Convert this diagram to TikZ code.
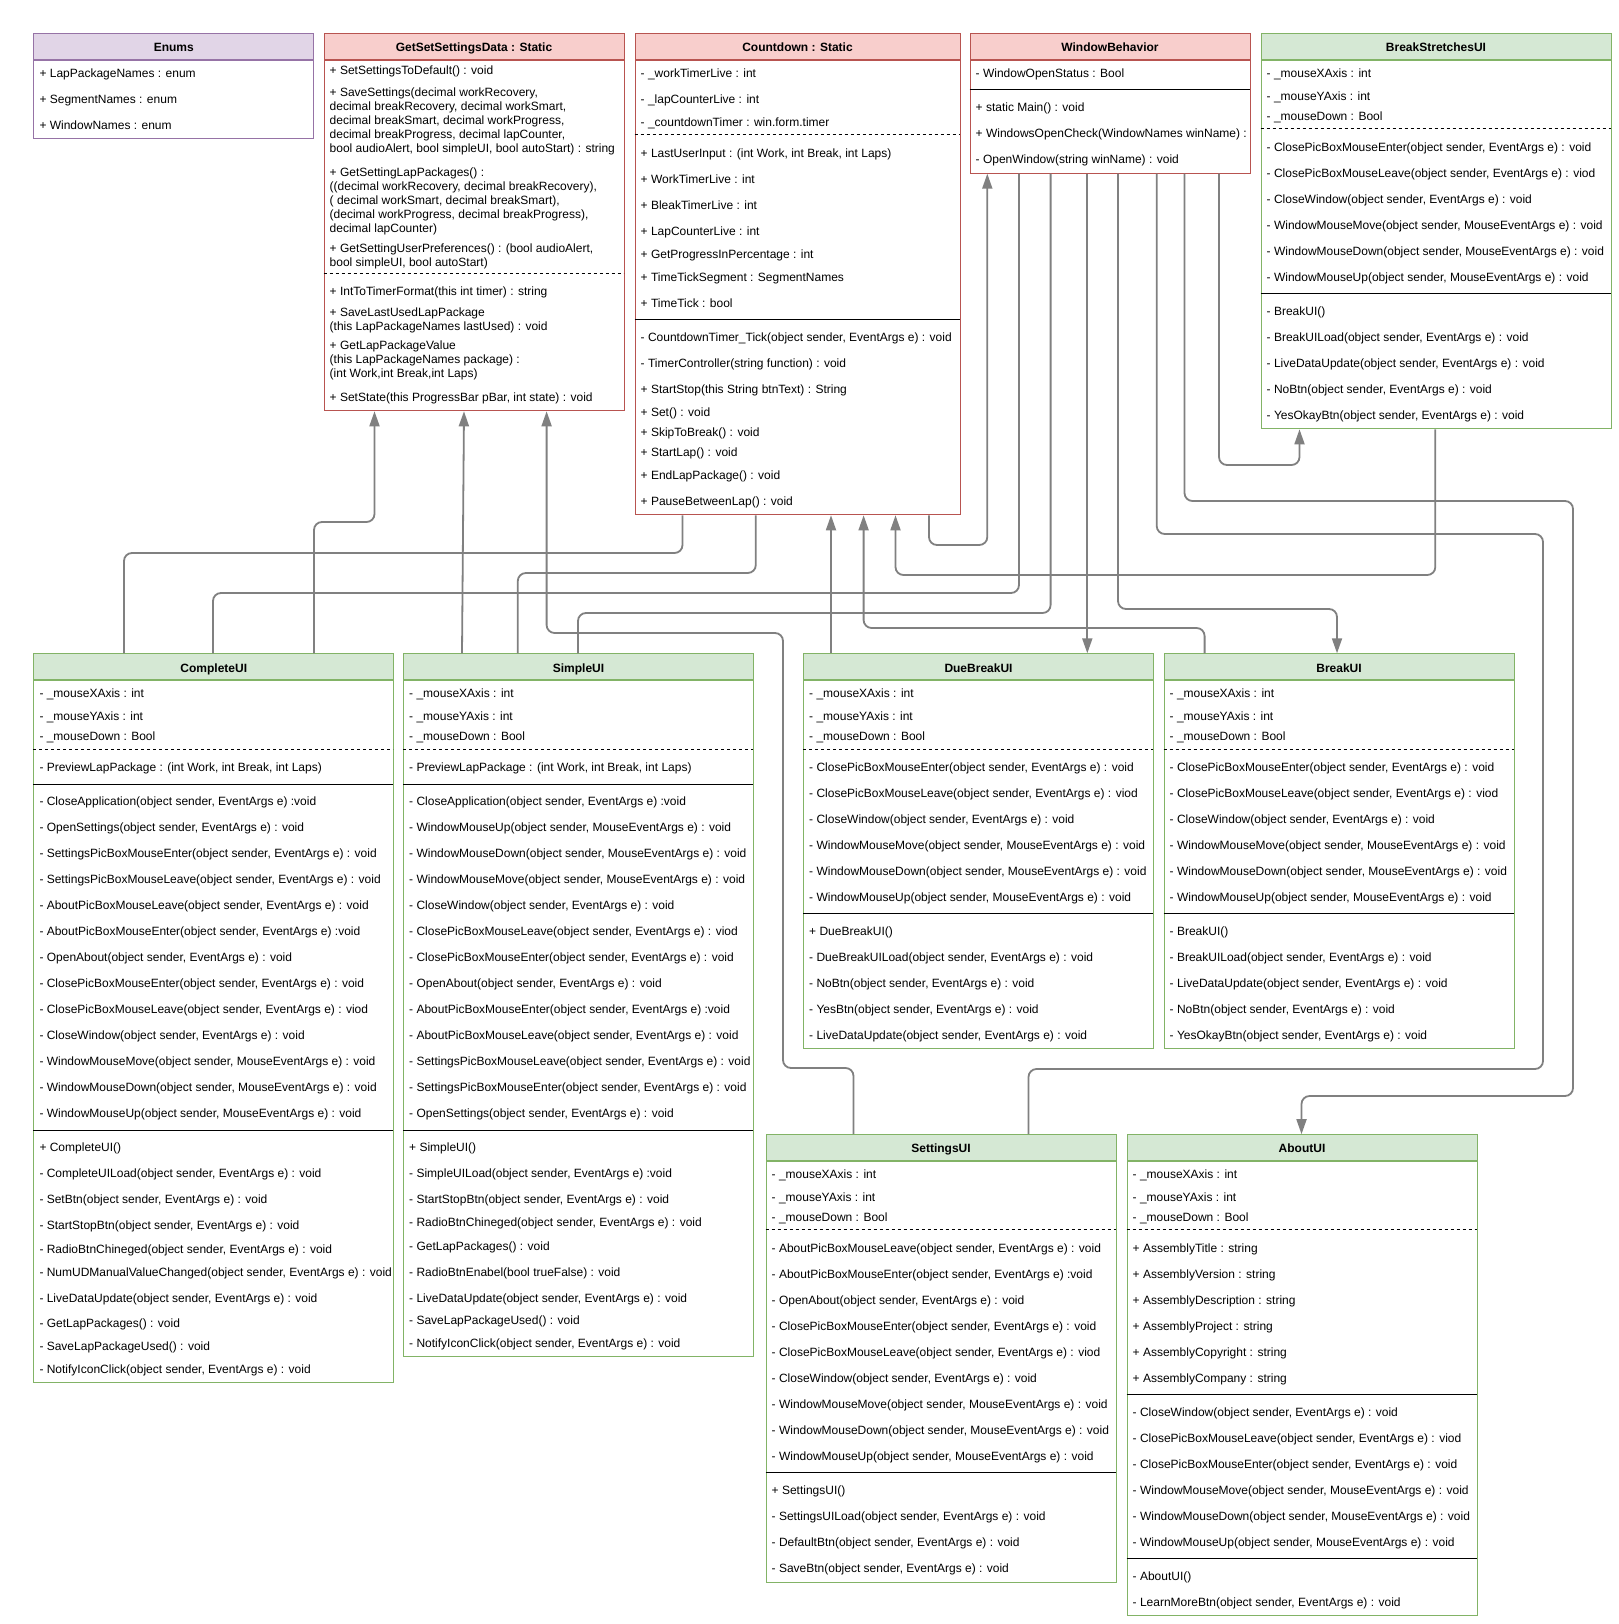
\documentclass[tikz,border=0pt]{standalone}
\usepackage{fontspec}
\setmainfont{Liberation Sans}
\usetikzlibrary{arrows.meta,calc}

\definecolor{enumfill}{HTML}{E1D5E7}
\definecolor{enumline}{HTML}{9673A6}
\definecolor{redfill}{HTML}{F8CECC}
\definecolor{redline}{HTML}{B85450}
\definecolor{greenfill}{HTML}{D5E8D4}
\definecolor{greenline}{HTML}{82B366}
\definecolor{linkgray}{HTML}{808080}

\tikzset{
  every node/.style={font=\fontsize{12}{14}\selectfont},
  mem/.style={anchor=west, inner sep=0pt, text height=10.5pt, text depth=0pt},
  head/.style={anchor=north west, minimum height=26pt, inner sep=0pt, line width=1pt,
    text height=10.4pt, text depth=0pt, font=\fontsize{12}{14}\selectfont\bfseries},
  body/.style={anchor=north west, inner sep=0pt, line width=1pt},
  purplehead/.style={head, fill=enumfill, draw=enumline},
  purplebody/.style={body, draw=enumline},
  redhead/.style={head, fill=redfill, draw=redline},
  redbody/.style={body, draw=redline},
  greenhead/.style={head, fill=greenfill, draw=greenline},
  greenbody/.style={body, draw=greenline},
  dsep/.style={line width=1pt, dash pattern=on 3pt off 3pt},
  ssep/.style={line width=1pt},
  assoc/.style={draw=linkgray, line width=1.8pt, rounded corners=8pt},
  dep/.style={assoc, -{Triangle[length=15pt,width=10pt]}, linkgray}
}

\begin{document}
\begin{tikzpicture}[x=1pt,y=-1pt]
\fill[white] (0,0) rectangle (1618,1624);
\useasboundingbox (0,0) rectangle (1618,1624);

% Enums
\node[purplehead, minimum width=280] (enums) at (33.3,33.3) {Enums};
\node[purplebody, minimum width=280, minimum height=78] (enumsb) at (enums.south west) {};
\node[mem] (en1) at (39.3,72.7) {+ LapPackageNames : enum};
\node[mem] (en2) at (39.3,98.7) {+ SegmentNames : enum};
\node[mem] (en3) at (39.3,124.7) {+ WindowNames : enum};

% GetSetSettingsData
\node[redhead, minimum width=300] (getset) at (323.5,33.3) {GetSetSettingsData : Static};
\node[redbody, minimum width=300, minimum height=350] (getsetb) at (getset.south west) {};
\node[mem] (gs1) at (329.5,69.3) {+ SetSettingsToDefault() : void};
\node[mem] (gs2) at (329.5,91.7) {+ SaveSettings(decimal workRecovery,};
\node[mem] (gs3) at (329.5,105.7) {decimal breakRecovery, decimal workSmart,};
\node[mem] (gs4) at (329.5,119.7) {decimal breakSmart, decimal workProgress,};
\node[mem] (gs5) at (329.5,133.7) {decimal breakProgress, decimal lapCounter,};
\node[mem] (gs6) at (329.5,147.7) {bool audioAlert, bool simpleUI, bool autoStart) : string};
\node[mem] (gs7) at (329.5,171.7) {+ GetSettingLapPackages() :};
\node[mem] (gs8) at (329.5,185.7) {((decimal workRecovery, decimal breakRecovery),};
\node[mem] (gs9) at (329.5,199.7) {( decimal workSmart, decimal breakSmart),};
\node[mem] (gs10) at (329.5,213.7) {(decimal workProgress, decimal breakProgress),};
\node[mem] (gs11) at (329.5,227.7) {decimal lapCounter)};
\node[mem] (gs12) at (329.5,247.7) {+ GetSettingUserPreferences() : (bool audioAlert,};
\node[mem] (gs13) at (329.5,261.7) {bool simpleUI, bool autoStart)};
\draw[dsep] (323.5,273.3) -- (623.5,273.3);
\node[mem] (gs14) at (329.5,290.7) {+ IntToTimerFormat(this int timer) : string};
\node[mem] (gs15) at (329.5,311.7) {+ SaveLastUsedLapPackage};
\node[mem] (gs16) at (329.5,325.7) {(this LapPackageNames lastUsed) : void};
\node[mem] (gs17) at (329.5,344.3) {+ GetLapPackageValue};
\node[mem] (gs18) at (329.5,358.3) {(this LapPackageNames package) :};
\node[mem] (gs19) at (329.5,372.3) {(int Work,int Break,int Laps)};
\node[mem] (gs20) at (329.5,396.7) {+ SetState(this ProgressBar pBar, int state) : void};

% Countdown
\node[redhead, minimum width=325] (countdown) at (634.5,33.3) {Countdown : Static};
\node[redbody, minimum width=325, minimum height=454] (countdownb) at (countdown.south west) {};
\node[mem] (cd1) at (640.5,72.7) {- \_workTimerLive : int};
\node[mem] (cd2) at (640.5,98.7) {- \_lapCounterLive : int};
\node[mem] (cd3) at (640.5,121.7) {- \_countdownTimer : win.form.timer};
\draw[dsep] (634.5,135) -- (959.5,135);
\node[mem] (cd4) at (640.5,152.7) {+ LastUserInput : (int Work, int Break, int Laps)};
\node[mem] (cd5) at (640.5,178.7) {+ WorkTimerLive : int};
\node[mem] (cd6) at (640.5,204.7) {+ BleakTimerLive : int};
\node[mem] (cd7) at (640.5,230.7) {+ LapCounterLive : int};
\node[mem] (cd8) at (640.5,253.7) {+ GetProgressInPercentage : int};
\node[mem] (cd9) at (640.5,276.7) {+ TimeTickSegment : SegmentNames};
\node[mem] (cd10) at (640.5,302.7) {+ TimeTick : bool};
\draw[ssep] (634.5,319.3) -- (959.5,319.3);
\node[mem] (cd11) at (640.5,336.7) {- CountdownTimer\_Tick(object sender, EventArgs e) : void};
\node[mem] (cd12) at (640.5,362.7) {- TimerController(string function) : void};
\node[mem] (cd13) at (640.5,388.7) {+ StartStop(this String btnText) : String};
\node[mem] (cd14) at (640.5,411.7) {+ Set() : void};
\node[mem] (cd15) at (640.5,431.7) {+ SkipToBreak() : void};
\node[mem] (cd16) at (640.5,451.7) {+ StartLap() : void};
\node[mem] (cd17) at (640.5,474.7) {+ EndLapPackage() : void};
\node[mem] (cd18) at (640.5,500.7) {+ PauseBetweenLap() : void};

% WindowBehavior
\node[redhead, minimum width=280] (winbeh) at (969.5,33.3) {WindowBehavior};
\node[redbody, minimum width=280, minimum height=112.4] (winbehb) at (winbeh.south west) {};
\node[mem] (wb1) at (975.5,72.7) {- WindowOpenStatus : Bool};
\draw[ssep] (969.5,89.3) -- (1249.5,89.3);
\node[mem] (wb2) at (975.5,106.7) {+ static Main() : void};
\node[mem] (wb3) at (975.5,132.7) {+ WindowsOpenCheck(WindowNames winName) :};
\node[mem] (wb4) at (975.5,158.7) {- OpenWindow(string winName) : void};

% BreakStretchesUI
\node[greenhead, minimum width=350] (stretches) at (1260.5,33.3) {BreakStretchesUI};
\node[greenbody, minimum width=350, minimum height=368] (stretchesb) at (stretches.south west) {};
\node[mem] (bs1) at (1266.5,72.7) {- \_mouseXAxis : int};
\node[mem] (bs2) at (1266.5,95.7) {- \_mouseYAxis : int};
\node[mem] (bs3) at (1266.5,115.7) {- \_mouseDown : Bool};
\draw[dsep] (1260.5,129) -- (1610.5,129);
\node[mem] (bs4) at (1266.5,146.7) {- ClosePicBoxMouseEnter(object sender, EventArgs e) : void};
\node[mem] (bs5) at (1266.5,172.7) {- ClosePicBoxMouseLeave(object sender, EventArgs e) : viod};
\node[mem] (bs6) at (1266.5,198.7) {- CloseWindow(object sender, EventArgs e) : void};
\node[mem] (bs7) at (1266.5,224.7) {- WindowMouseMove(object sender, MouseEventArgs e) : void};
\node[mem] (bs8) at (1266.5,250.7) {- WindowMouseDown(object sender, MouseEventArgs e) : void};
\node[mem] (bs9) at (1266.5,276.7) {- WindowMouseUp(object sender, MouseEventArgs e) : void};
\draw[ssep] (1260.5,293.3) -- (1610.5,293.3);
\node[mem] (bs10) at (1266.5,310.7) {- BreakUI()};
\node[mem] (bs11) at (1266.5,336.7) {- BreakUILoad(object sender, EventArgs e) : void};
\node[mem] (bs12) at (1266.5,362.7) {- LiveDataUpdate(object sender, EventArgs e) : void};
\node[mem] (bs13) at (1266.5,388.7) {- NoBtn(object sender, EventArgs e) : void};
\node[mem] (bs14) at (1266.5,414.7) {- YesOkayBtn(object sender, EventArgs e) : void};

% CompleteUI
\node[greenhead, minimum width=360] (complete) at (33.3,653.3) {CompleteUI};
\node[greenbody, minimum width=360, minimum height=701.4] (completeb) at (complete.south west) {};
\node[mem] (cu1) at (39.3,692.7) {- \_mouseXAxis : int};
\node[mem] (cu2) at (39.3,715.7) {- \_mouseYAxis : int};
\node[mem] (cu3) at (39.3,735.7) {- \_mouseDown : Bool};
\draw[dsep] (33.3,749) -- (393.3,749);
\node[mem] (cu4) at (39.3,766.7) {- PreviewLapPackage : (int Work, int Break, int Laps)};
\draw[ssep] (33.3,784.1) -- (393.3,784.1);
\node[mem] (cu5) at (39.3,800.7) {- CloseApplication(object sender, EventArgs e) :void};
\node[mem] (cu6) at (39.3,826.7) {- OpenSettings(object sender, EventArgs e) : void};
\node[mem] (cu7) at (39.3,852.7) {- SettingsPicBoxMouseEnter(object sender, EventArgs e) : void};
\node[mem] (cu8) at (39.3,878.7) {- SettingsPicBoxMouseLeave(object sender, EventArgs e) : void};
\node[mem] (cu9) at (39.3,904.7) {- AboutPicBoxMouseLeave(object sender, EventArgs e) : void};
\node[mem] (cu10) at (39.3,930.7) {- AboutPicBoxMouseEnter(object sender, EventArgs e) :void};
\node[mem] (cu11) at (39.3,956.7) {- OpenAbout(object sender, EventArgs e) : void};
\node[mem] (cu12) at (39.3,982.7) {- ClosePicBoxMouseEnter(object sender, EventArgs e) : void};
\node[mem] (cu13) at (39.3,1008.7) {- ClosePicBoxMouseLeave(object sender, EventArgs e) : viod};
\node[mem] (cu14) at (39.3,1034.7) {- CloseWindow(object sender, EventArgs e) : void};
\node[mem] (cu15) at (39.3,1060.7) {- WindowMouseMove(object sender, MouseEventArgs e) : void};
\node[mem] (cu16) at (39.3,1086.7) {- WindowMouseDown(object sender, MouseEventArgs e) : void};
\node[mem] (cu17) at (39.3,1112.7) {- WindowMouseUp(object sender, MouseEventArgs e) : void};
\draw[ssep] (33.3,1130) -- (393.3,1130);
\node[mem] (cu18) at (39.3,1146.7) {+ CompleteUI()};
\node[mem] (cu19) at (39.3,1172.7) {- CompleteUILoad(object sender, EventArgs e) : void};
\node[mem] (cu20) at (39.3,1198.7) {- SetBtn(object sender, EventArgs e) : void};
\node[mem] (cu21) at (39.3,1224.5) {- StartStopBtn(object sender, EventArgs e) : void};
\node[mem] (cu22) at (39.3,1248) {- RadioBtnChineged(object sender, EventArgs e) : void};
\node[mem] (cu23) at (39.3,1271) {- NumUDManualValueChanged(object sender, EventArgs e) : void};
\node[mem] (cu24) at (39.3,1296.8) {- LiveDataUpdate(object sender, EventArgs e) : void};
\node[mem] (cu25) at (39.3,1322.7) {- GetLapPackages() : void};
\node[mem] (cu26) at (39.3,1345.5) {- SaveLapPackageUsed() : void};
\node[mem] (cu27) at (39.3,1368.3) {- NotifyIconClick(object sender, EventArgs e) : void};

% SimpleUI
\node[greenhead, minimum width=350] (simple) at (403,653.3) {SimpleUI};
\node[greenbody, minimum width=350, minimum height=675.5] (simpleb) at (simple.south west) {};
\node[mem] (su1) at (409,692.7) {- \_mouseXAxis : int};
\node[mem] (su2) at (409,715.7) {- \_mouseYAxis : int};
\node[mem] (su3) at (409,735.7) {- \_mouseDown : Bool};
\draw[dsep] (403,749) -- (753,749);
\node[mem] (su4) at (409,766.7) {- PreviewLapPackage : (int Work, int Break, int Laps)};
\draw[ssep] (403,784.1) -- (753,784.1);
\node[mem] (su5) at (409,800.7) {- CloseApplication(object sender, EventArgs e) :void};
\node[mem] (su6) at (409,826.7) {- WindowMouseUp(object sender, MouseEventArgs e) : void};
\node[mem] (su7) at (409,852.7) {- WindowMouseDown(object sender, MouseEventArgs e) : void};
\node[mem] (su8) at (409,878.7) {- WindowMouseMove(object sender, MouseEventArgs e) : void};
\node[mem] (su9) at (409,904.7) {- CloseWindow(object sender, EventArgs e) : void};
\node[mem] (su10) at (409,930.7) {- ClosePicBoxMouseLeave(object sender, EventArgs e) : viod};
\node[mem] (su11) at (409,956.7) {- ClosePicBoxMouseEnter(object sender, EventArgs e) : void};
\node[mem] (su12) at (409,982.7) {- OpenAbout(object sender, EventArgs e) : void};
\node[mem] (su13) at (409,1008.7) {- AboutPicBoxMouseEnter(object sender, EventArgs e) :void};
\node[mem] (su14) at (409,1034.7) {- AboutPicBoxMouseLeave(object sender, EventArgs e) : void};
\node[mem] (su15) at (409,1060.7) {- SettingsPicBoxMouseLeave(object sender, EventArgs e) : void};
\node[mem] (su16) at (409,1086.7) {- SettingsPicBoxMouseEnter(object sender, EventArgs e) : void};
\node[mem] (su17) at (409,1112.7) {- OpenSettings(object sender, EventArgs e) : void};
\draw[ssep] (403,1130) -- (753,1130);
\node[mem] (su18) at (409,1146.7) {+ SimpleUI()};
\node[mem] (su19) at (409,1172.7) {- SimpleUILoad(object sender, EventArgs e) :void};
\node[mem] (su20) at (409,1198.5) {- StartStopBtn(object sender, EventArgs e) : void};
\node[mem] (su21) at (409,1221.3) {- RadioBtnChineged(object sender, EventArgs e) : void};
\node[mem] (su22) at (409,1245) {- GetLapPackages() : void};
\node[mem] (su23) at (409,1271) {- RadioBtnEnabel(bool trueFalse) : void};
\node[mem] (su24) at (409,1296.8) {- LiveDataUpdate(object sender, EventArgs e) : void};
\node[mem] (su25) at (409,1319.6) {- SaveLapPackageUsed() : void};
\node[mem] (su26) at (409,1342.4) {- NotifyIconClick(object sender, EventArgs e) : void};

% DueBreakUI
\node[greenhead, minimum width=350] (duebreak) at (803,653.3) {DueBreakUI};
\node[greenbody, minimum width=350, minimum height=367.4] (duebreakb) at (duebreak.south west) {};
\node[mem] (db1) at (809,692.7) {- \_mouseXAxis : int};
\node[mem] (db2) at (809,715.7) {- \_mouseYAxis : int};
\node[mem] (db3) at (809,735.7) {- \_mouseDown : Bool};
\draw[dsep] (803,749) -- (1153,749);
\node[mem] (db4) at (809,766.7) {- ClosePicBoxMouseEnter(object sender, EventArgs e) : void};
\node[mem] (db5) at (809,792.7) {- ClosePicBoxMouseLeave(object sender, EventArgs e) : viod};
\node[mem] (db6) at (809,818.7) {- CloseWindow(object sender, EventArgs e) : void};
\node[mem] (db7) at (809,844.7) {- WindowMouseMove(object sender, MouseEventArgs e) : void};
\node[mem] (db8) at (809,870.7) {- WindowMouseDown(object sender, MouseEventArgs e) : void};
\node[mem] (db9) at (809,896.7) {- WindowMouseUp(object sender, MouseEventArgs e) : void};
\draw[ssep] (803,913.3) -- (1153,913.3);
\node[mem] (db10) at (809,930.7) {+ DueBreakUI()};
\node[mem] (db11) at (809,956.7) {- DueBreakUILoad(object sender, EventArgs e) : void};
\node[mem] (db12) at (809,982.7) {- NoBtn(object sender, EventArgs e) : void};
\node[mem] (db13) at (809,1008.7) {- YesBtn(object sender, EventArgs e) : void};
\node[mem] (db14) at (809,1034.7) {- LiveDataUpdate(object sender, EventArgs e) : void};

% BreakUI
\node[greenhead, minimum width=350] (breakui) at (1163.5,653.3) {BreakUI};
\node[greenbody, minimum width=350, minimum height=367.4] (breakuib) at (breakui.south west) {};
\node[mem] (bu1) at (1169.5,692.7) {- \_mouseXAxis : int};
\node[mem] (bu2) at (1169.5,715.7) {- \_mouseYAxis : int};
\node[mem] (bu3) at (1169.5,735.7) {- \_mouseDown : Bool};
\draw[dsep] (1163.5,749) -- (1513.5,749);
\node[mem] (bu4) at (1169.5,766.7) {- ClosePicBoxMouseEnter(object sender, EventArgs e) : void};
\node[mem] (bu5) at (1169.5,792.7) {- ClosePicBoxMouseLeave(object sender, EventArgs e) : viod};
\node[mem] (bu6) at (1169.5,818.7) {- CloseWindow(object sender, EventArgs e) : void};
\node[mem] (bu7) at (1169.5,844.7) {- WindowMouseMove(object sender, MouseEventArgs e) : void};
\node[mem] (bu8) at (1169.5,870.7) {- WindowMouseDown(object sender, MouseEventArgs e) : void};
\node[mem] (bu9) at (1169.5,896.7) {- WindowMouseUp(object sender, MouseEventArgs e) : void};
\draw[ssep] (1163.5,913.3) -- (1513.5,913.3);
\node[mem] (bu10) at (1169.5,930.7) {- BreakUI()};
\node[mem] (bu11) at (1169.5,956.7) {- BreakUILoad(object sender, EventArgs e) : void};
\node[mem] (bu12) at (1169.5,982.7) {- LiveDataUpdate(object sender, EventArgs e) : void};
\node[mem] (bu13) at (1169.5,1008.7) {- NoBtn(object sender, EventArgs e) : void};
\node[mem] (bu14) at (1169.5,1034.7) {- YesOkayBtn(object sender, EventArgs e) : void};

% SettingsUI
\node[greenhead, minimum width=350] (settings) at (765.5,1134.2) {SettingsUI};
\node[greenbody, minimum width=350, minimum height=420.4] (settingsb) at (settings.south west) {};
\node[mem] (st1) at (771.5,1173.6) {- \_mouseXAxis : int};
\node[mem] (st2) at (771.5,1196.6) {- \_mouseYAxis : int};
\node[mem] (st3) at (771.5,1216.6) {- \_mouseDown : Bool};
\draw[dsep] (765.5,1229.9) -- (1115.5,1229.9);
\node[mem] (st4) at (771.5,1247.6) {- AboutPicBoxMouseLeave(object sender, EventArgs e) : void};
\node[mem] (st5) at (771.5,1273.6) {- AboutPicBoxMouseEnter(object sender, EventArgs e) :void};
\node[mem] (st6) at (771.5,1299.6) {- OpenAbout(object sender, EventArgs e) : void};
\node[mem] (st7) at (771.5,1325.6) {- ClosePicBoxMouseEnter(object sender, EventArgs e) : void};
\node[mem] (st8) at (771.5,1351.6) {- ClosePicBoxMouseLeave(object sender, EventArgs e) : viod};
\node[mem] (st9) at (771.5,1377.6) {- CloseWindow(object sender, EventArgs e) : void};
\node[mem] (st10) at (771.5,1403.6) {- WindowMouseMove(object sender, MouseEventArgs e) : void};
\node[mem] (st11) at (771.5,1429.6) {- WindowMouseDown(object sender, MouseEventArgs e) : void};
\node[mem] (st12) at (771.5,1455.6) {- WindowMouseUp(object sender, MouseEventArgs e) : void};
\draw[ssep] (765.5,1472.2) -- (1115.5,1472.2);
\node[mem] (st13) at (771.5,1489.6) {+ SettingsUI()};
\node[mem] (st14) at (771.5,1515.6) {- SettingsUILoad(object sender, EventArgs e) : void};
\node[mem] (st15) at (771.5,1541.6) {- DefaultBtn(object sender, EventArgs e) : void};
\node[mem] (st16) at (771.5,1567.6) {- SaveBtn(object sender, EventArgs e) : void};

% AboutUI
\node[greenhead, minimum width=350] (about) at (1126.5,1134.2) {AboutUI};
\node[greenbody, minimum width=350, minimum height=454] (aboutb) at (about.south west) {};
\node[mem] (ab1) at (1132.5,1173.6) {- \_mouseXAxis : int};
\node[mem] (ab2) at (1132.5,1196.6) {- \_mouseYAxis : int};
\node[mem] (ab3) at (1132.5,1216.6) {- \_mouseDown : Bool};
\draw[dsep] (1126.5,1229.9) -- (1476.5,1229.9);
\node[mem] (ab4) at (1132.5,1247.6) {+ AssemblyTitle : string};
\node[mem] (ab5) at (1132.5,1273.6) {+ AssemblyVersion : string};
\node[mem] (ab6) at (1132.5,1299.6) {+ AssemblyDescription : string};
\node[mem] (ab7) at (1132.5,1325.6) {+ AssemblyProject : string};
\node[mem] (ab8) at (1132.5,1351.6) {+ AssemblyCopyright : string};
\node[mem] (ab9) at (1132.5,1377.6) {+ AssemblyCompany : string};
\draw[ssep] (1126.5,1394.2) -- (1476.5,1394.2);
\node[mem] (ab10) at (1132.5,1411.6) {- CloseWindow(object sender, EventArgs e) : void};
\node[mem] (ab11) at (1132.5,1437.6) {- ClosePicBoxMouseLeave(object sender, EventArgs e) : viod};
\node[mem] (ab12) at (1132.5,1463.6) {- ClosePicBoxMouseEnter(object sender, EventArgs e) : void};
\node[mem] (ab13) at (1132.5,1489.6) {- WindowMouseMove(object sender, MouseEventArgs e) : void};
\node[mem] (ab14) at (1132.5,1515.6) {- WindowMouseDown(object sender, MouseEventArgs e) : void};
\node[mem] (ab15) at (1132.5,1541.6) {- WindowMouseUp(object sender, MouseEventArgs e) : void};
\draw[ssep] (1126.5,1558.2) -- (1476.5,1558.2);
\node[mem] (ab16) at (1132.5,1575.6) {- AboutUI()};
\node[mem] (ab17) at (1132.5,1601.6) {- LearnMoreBtn(object sender, EventArgs e) : void};

% plain links
\draw[assoc] ($(complete.north west)+(90.7,0)$) -- ++(0,-100.3) -| ($(countdownb.south west)+(48,0)$);
\draw[assoc] ($(simple.north west)+(114.8,0)$) -- ++(0,-80.3) -| ($(countdownb.south west)+(121.3,0)$);
\draw[assoc] ($(complete.north west)+(179.7,0)$) -- ++(0,-60.3) -| ($(winbehb.south west)+(49.5,0)$);
\draw[assoc] ($(simple.north west)+(175,0)$) -- ++(0,-40.3) -| ($(winbehb.south west)+(81.1,0)$);
\draw[assoc] ($(winbehb.south west)+(187.2,0)$) |- (1543,534) -- (1543,1069) -| ($(settings.north west)+(263,0)$);

% arrows
\draw[dep] ($(complete.north west)+(280.7,0)$) -- ++(0,-131.3) -| ($(getsetb.south west)+(51,0)$);
\draw[dep] ($(simple.north west)+(59,0)$) -- ($(getsetb.south west)+(140.5,0)$);
\draw[dep] ($(settings.north west)+(88,0)$) |- (783,1068) -- (783,633) -| ($(getsetb.south west)+(223.1,0)$);
\draw[dep] ($(duebreak.north west)+(28,0)$) -- ($(countdownb.south west)+(196.5,0)$);
\draw[dep] ($(breakui.north west)+(41.1,0)$) -- ++(0,-25.3) -| ($(countdownb.south west)+(229.1,0)$);
\draw[dep] ($(stretchesb.south west)+(174.8,0)$) -- ++(0,145.7) -| ($(countdownb.south west)+(261,0)$);
\draw[dep] ($(countdownb.south west)+(294.5,0)$) -- ++(0,29.7) -| ($(winbehb.south west)+(17.8,0)$);
\draw[dep] ($(winbehb.south west)+(117.8,0)$) -- ($(duebreak.north west)+(284.3,0)$);
\draw[dep] ($(winbehb.south west)+(148.5,0)$) -- ++(0,435.3) -| ($(breakui.north west)+(173.5,0)$);
\draw[dep] ($(winbehb.south west)+(215,0)$) |- (1573,501) -- (1573,1096) -| ($(about.north west)+(175,0)$);
\draw[dep] ($(winbehb.south west)+(249.5,0)$) -- ++(0,291.3) -| ($(stretchesb.south west)+(39,0)$);
\end{tikzpicture}
\end{document}
